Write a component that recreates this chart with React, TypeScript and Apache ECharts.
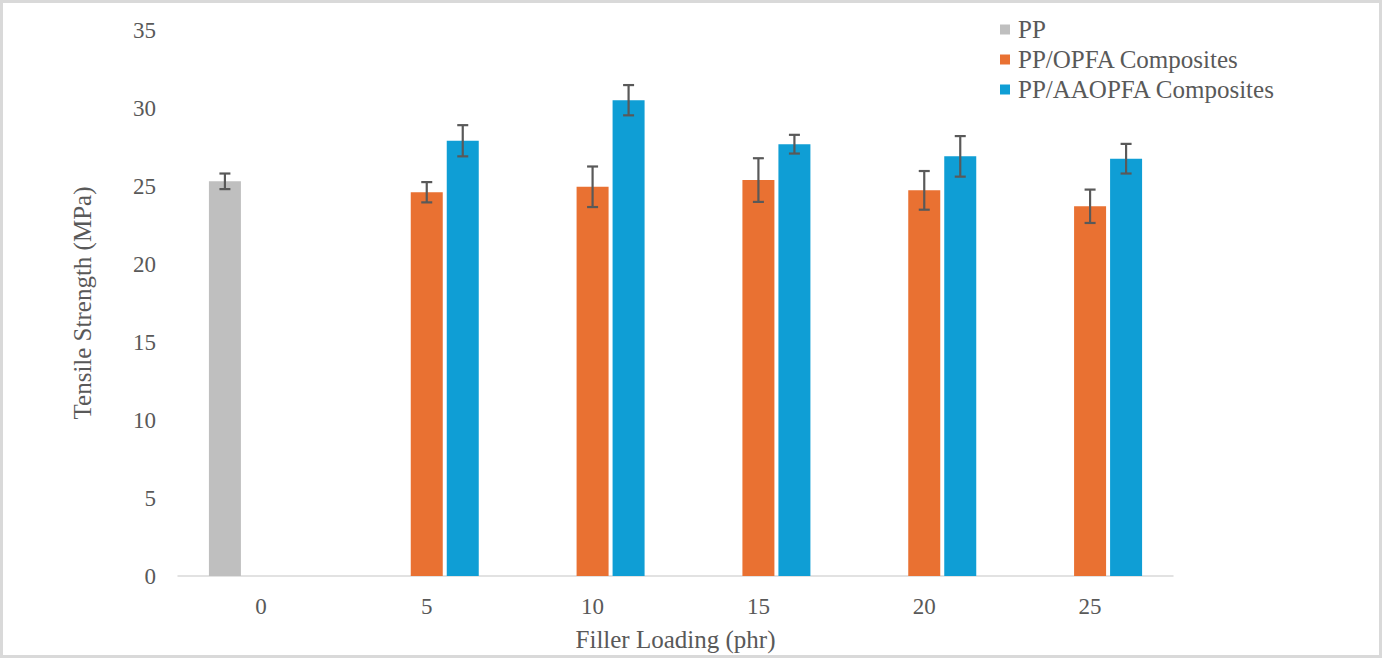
import React, { useEffect, useRef } from "react";
import * as echarts from "echarts";

const categories = ["0", "5", "10", "15", "20", "25"];
const ppValues = [25.3, null, null, null, null, null];
const ppErrors = [0.5, null, null, null, null, null];
const opfaValues = [null, 24.6, 24.95, 25.38, 24.72, 23.7];
const opfaErrors = [null, 0.65, 1.3, 1.4, 1.24, 1.07];
const aaopfaValues = [null, 27.9, 30.5, 27.68, 26.9, 26.75];
const aaopfaErrors = [null, 1.0, 0.97, 0.6, 1.3, 0.95];
const seriesNames = ["PP", "PP/OPFA Composites", "PP/AAOPFA Composites"];
const colors = ["#BFBFBF", "#E97132", "#0F9ED5"];

const FONT = "'Times New Roman', 'Liberation Serif', serif";
const TEXT_COLOR = "#595959";

function errData(values: (number | null)[], errs: (number | null)[]) {
  const out: any[] = [];
  values.forEach((v, i) => {
    const e = errs[i];
    if (v != null && e != null) out.push([i, v - e, v + e]);
  });
  return out;
}

function makeErrorSeries(name: string, data: any[], offset: number) {
  return {
    type: "custom",
    name: name + " error",
    data,
    z: 10,
    silent: true,
    encode: { x: 0, y: [1, 2] },
    renderItem: (params: any, api: any) => {
      const i = api.value(0);
      const lo = api.coord([i, api.value(1)]);
      const hi = api.coord([i, api.value(2)]);
      const x = lo[0] + offset;
      const half = 5.5;
      const style = { stroke: "#595959", lineWidth: 2.2 };
      return {
        type: "group",
        children: [
          { type: "line", shape: { x1: x, y1: lo[1], x2: x, y2: hi[1] }, style },
          { type: "line", shape: { x1: x - half, y1: lo[1], x2: x + half, y2: lo[1] }, style },
          { type: "line", shape: { x1: x - half, y1: hi[1], x2: x + half, y2: hi[1] }, style },
        ],
      };
    },
  };
}

export default function App() {
  const ref = useRef<HTMLDivElement>(null);
  useEffect(() => {
    if (!ref.current) return;
    const chart = echarts.init(ref.current, null, { renderer: "svg" });
    const toData = (arr: (number | null)[]) => arr.map((v) => (v == null ? "-" : v));
    const barStyle = (c: string) => ({ color: c });
    chart.setOption({
      animation: false,
      backgroundColor: "#ffffff",
      textStyle: { fontFamily: FONT },
      grid: { left: 178, right: 209, top: 30, bottom: 82, containLabel: false },
      legend: {
        data: seriesNames,
        orient: "vertical",
        left: 995,
        top: 12,
        itemWidth: 10,
        itemHeight: 10,
        itemGap: 5,
        icon: "rect",
        textStyle: { fontFamily: FONT, fontSize: 25, color: TEXT_COLOR, padding: [0, 0, 0, 3] },
      },
      xAxis: {
        type: "category",
        data: categories,
        name: "Filler Loading (phr)",
        nameLocation: "middle",
        nameGap: 51,
        nameTextStyle: { fontFamily: FONT, fontSize: 25, color: TEXT_COLOR },
        axisLine: { lineStyle: { color: "#D9D9D9", width: 1.5 } },
        axisTick: { show: false },
        axisLabel: { fontFamily: FONT, fontSize: 23, color: TEXT_COLOR, margin: 19 },
      },
      yAxis: {
        type: "value",
        min: 0,
        max: 35,
        interval: 5,
        name: "Tensile Strength (MPa)",
        nameLocation: "middle",
        nameGap: 83,
        nameTextStyle: { fontFamily: FONT, fontSize: 25, color: TEXT_COLOR },
        axisLine: { show: false },
        axisTick: { show: false },
        splitLine: { show: false },
        axisLabel: { fontFamily: FONT, fontSize: 23, color: TEXT_COLOR, margin: 22 },
      },
      graphic: [
        {
          type: "rect",
          shape: { x: 1.5, y: 1.5, width: 1379, height: 655 },
          style: { fill: "none", stroke: "#D9D9D9", lineWidth: 3 },
          silent: true,
        },
      ],
      series: [
        {
          type: "bar",
          name: seriesNames[0],
          data: toData(ppValues),
          barWidth: 32,
          barGap: "12.5%",
          itemStyle: barStyle(colors[0]),
        },
        {
          type: "bar",
          name: seriesNames[1],
          data: toData(opfaValues),
          barWidth: 32,
          barGap: "12.5%",
          itemStyle: barStyle(colors[1]),
        },
        {
          type: "bar",
          name: seriesNames[2],
          data: toData(aaopfaValues),
          barWidth: 32,
          barGap: "12.5%",
          itemStyle: barStyle(colors[2]),
        },
        makeErrorSeries(seriesNames[0], errData(ppValues, ppErrors), -36),
        makeErrorSeries(seriesNames[1], errData(opfaValues, opfaErrors), 0),
        makeErrorSeries(seriesNames[2], errData(aaopfaValues, aaopfaErrors), 36),
      ],
    });
    return () => chart.dispose();
  }, []);
  return (
    <div
      ref={ref}
      style={{ position: "absolute", left: 0, top: 0, width: 1382, height: 658 }}
    />
  );
}
